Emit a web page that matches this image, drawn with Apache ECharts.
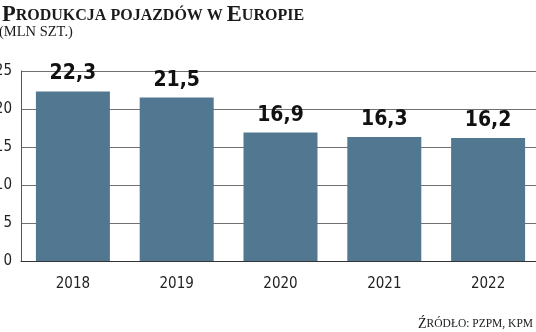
<!DOCTYPE html>
<html>
<head>
<meta charset="utf-8">
<script src="https://cdn.jsdelivr.net/npm/echarts@6/dist/echarts.min.js"></script>
<style>
  html, body { margin: 0; padding: 0; background: #fff; }
  #chart { width: 536px; height: 332px; }
</style>
</head>
<body>
<div id="chart"></div>
<script>
// Vehicle production in Europe, million units
const years = ['2018', '2019', '2020', '2021', '2022'];
const production = [22.3, 21.5, 16.9, 16.3, 16.2];
const yTicks = { min: 0, max: 25, step: 5 };

const barColor = '#527891';
const serif = '"Liberation Serif", serif';
const sans = '"DejaVu Sans Condensed", Roboto, sans-serif';

const chart = echarts.init(document.getElementById('chart'), null, { renderer: 'canvas' });

chart.setOption({
  animation: false,
  backgroundColor: '#fff',
  title: [
    {
      text: '{b|P}{s|RODUKCJA POJAZDÓW W }{b|E}{s|UROPIE}',
      left: -3,
      top: -1,
      textStyle: {
        rich: {
          b: { fontFamily: serif, fontWeight: 'bold', fontSize: 22.5, color: '#1a1a1a' },
          s: { fontFamily: serif, fontWeight: 'bold', fontSize: 16, color: '#1a1a1a' }
        }
      }
    },
    {
      text: '(MLN SZT.)',
      left: -6,
      top: 20,
      textStyle: { fontFamily: serif, fontWeight: 'normal', fontSize: 14.5, color: '#1a1a1a' }
    },
    {
      text: '{b|Ź}{s|RÓDŁO: PZPM, KPM}',
      right: -2,
      top: 312,
      textStyle: {
        fontWeight: 'normal',
        rich: {
          b: { fontFamily: serif, fontWeight: 'normal', fontSize: 14, color: '#1a1a1a' },
          s: { fontFamily: serif, fontWeight: 'normal', fontSize: 11.5, color: '#1a1a1a' }
        }
      }
    }
  ],
  grid: { left: 21, right: -4, top: 71, bottom: 71, outerBoundsMode: 'none', containLabel: false },
  xAxis: {
    type: 'category',
    data: years,
    axisLine: { show: true, lineStyle: { color: '#333', width: 1 } },
    axisTick: { show: false },
    axisLabel: { fontFamily: sans, fontSize: 15, color: '#222', margin: 16 }
  },
  yAxis: {
    type: 'value',
    min: yTicks.min,
    max: yTicks.max,
    interval: yTicks.step,
    axisLine: { show: true, lineStyle: { color: '#555', width: 1 } },
    axisTick: { show: false },
    axisLabel: { fontFamily: sans, fontSize: 15, color: '#222', margin: 9 },
    splitLine: { show: true, lineStyle: { color: '#707070', width: 1 } }
  },
  series: [{
    type: 'bar',
    data: production,
    barWidth: 74,
    itemStyle: { color: barColor },
    label: {
      show: true,
      position: 'top',
      distance: 7,
      formatter: p => String(p.value).replace('.', ','),
      fontFamily: sans,
      fontWeight: 'bold',
      fontSize: 21,
      color: '#111'
    }
  }]
});
</script>
</body>
</html>
